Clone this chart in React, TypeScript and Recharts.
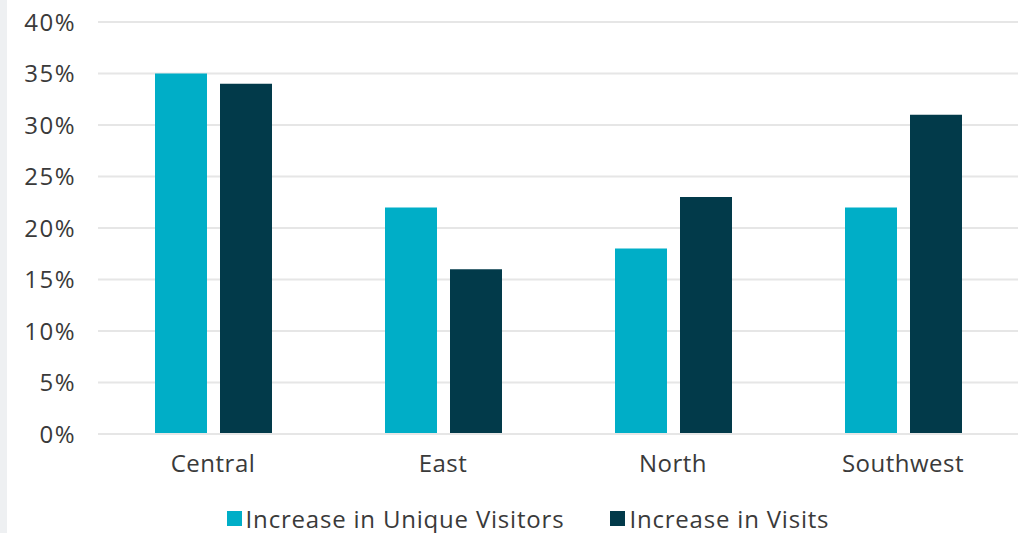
import React from "react";
import {
  BarChart,
  Bar,
  XAxis,
  YAxis,
  CartesianGrid,
  Legend,
} from "recharts";

const regions = ["Central", "East", "North", "Southwest"];
const uniqueVisitors = [35, 22, 18, 22];
const visits = [34, 16, 23, 31];
const yTicks = [0, 5, 10, 15, 20, 25, 30, 35, 40];

const TEAL = "#00aec7";
const DARK = "#023a4a";
const TEXT = "#3a3a3a";
const FONT = "'Open Sans', 'Noto Sans', sans-serif";

const data = regions.map((name, i) => ({
  name,
  unique: uniqueVisitors[i],
  visits: visits[i],
}));

function LegendContent() {
  const items = [
    { label: "Increase in Unique Visitors", color: TEAL },
    { label: "Increase in Visits", color: DARK },
  ];
  return (
    <div
      style={{
        display: "flex",
        justifyContent: "center",
        gap: 46,
        paddingTop: 18,
        paddingLeft: 38,
        fontFamily: FONT,
        fontSize: 24,
        letterSpacing: 0.8,
        color: TEXT,
      }}
    >
      {items.map((it) => (
        <span key={it.label} style={{ display: "flex", alignItems: "center" }}>
          <span
            style={{
              width: 15,
              height: 15,
              background: it.color,
              marginRight: 4,
              display: "inline-block",
            }}
          />
          {it.label}
        </span>
      ))}
    </div>
  );
}

export default function App() {
  return (
    <div
      style={{
        position: "absolute",
        left: 0,
        top: 0,
        width: 1030,
        height: 533,
        background: "#fff",
      }}
    >
      <div
        style={{
          position: "absolute",
          left: 0,
          top: 0,
          width: 7,
          height: 533,
          background: "#eef0f2",
        }}
      />
      <BarChart
        width={1030}
        height={533}
        data={data}
        margin={{ top: 22, right: 12, left: 0, bottom: 2 }}
        barGap={13}
        barSize={52}
      >
        <CartesianGrid vertical={false} stroke="#e6e6e6" strokeWidth={2} />
        <XAxis
          dataKey="name"
          axisLine={{ stroke: "#e6e6e6", strokeWidth: 2 }}
          tickLine={false}
          tickSize={0}
          tickMargin={21}
          height={50}
          tick={{
            fill: TEXT,
            fontSize: 24,
            fontFamily: FONT,
            letterSpacing: 0.5,
          }}
        />
        <YAxis
          domain={[0, 40]}
          ticks={yTicks}
          width={98}
          axisLine={false}
          tickLine={false}
          tickSize={0}
          tickMargin={22}
          tickFormatter={(v) => `${v}%`}
          tick={{
            fill: TEXT,
            fontSize: 24,
            fontFamily: FONT,
            letterSpacing: 1.5,
          }}
        />
        <Legend verticalAlign="bottom" height={47} content={<LegendContent />} />
        <Bar
          dataKey="unique"
          name="Increase in Unique Visitors"
          fill={TEAL}
          isAnimationActive={false}
        />
        <Bar
          dataKey="visits"
          name="Increase in Visits"
          fill={DARK}
          isAnimationActive={false}
        />
      </BarChart>
    </div>
  );
}
